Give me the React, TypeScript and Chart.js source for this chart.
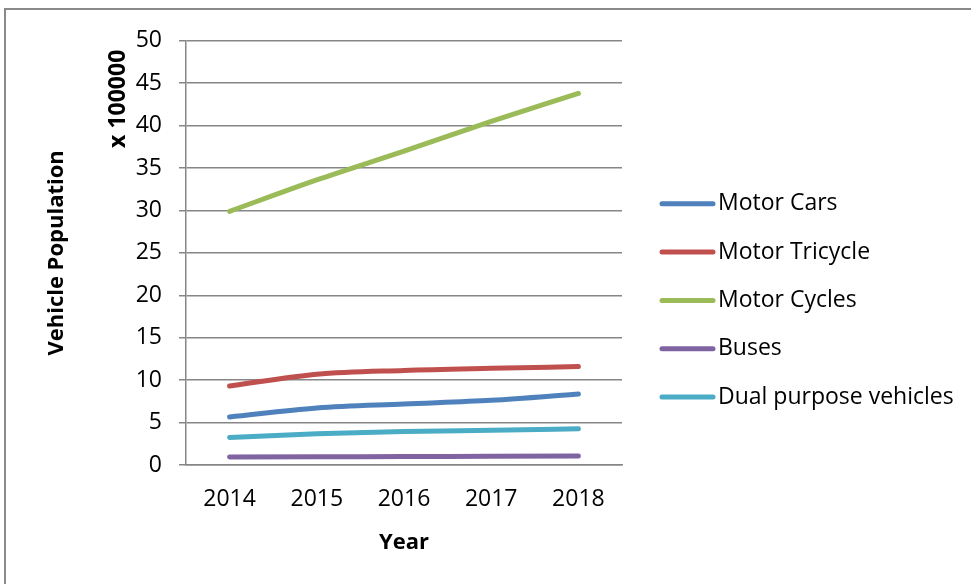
import React, { useEffect, useRef } from "react";
import { Chart, registerables } from "chart.js";

Chart.register(...registerables);

const years = ["2014", "2015", "2016", "2017", "2018"];
const motorCars = [5.67, 6.73, 7.2, 7.63, 8.37];
const motorTricycle = [9.3, 10.7, 11.15, 11.4, 11.6];
const motorCycles = [29.9, 33.6, 37.0, 40.5, 43.8];
const buses = [0.94, 0.97, 1.0, 1.03, 1.06];
const dualPurpose = [3.25, 3.68, 3.95, 4.1, 4.26];

const seriesNames = ["Motor Cars", "Motor Tricycle", "Motor Cycles", "Buses", "Dual purpose vehicles"];
const seriesColors = ["#4F81BD", "#C0504D", "#9BBB59", "#8064A2", "#4BACC6"];
const seriesValues = [motorCars, motorTricycle, motorCycles, buses, dualPurpose];

const FONT = "'Open Sans', 'Noto Sans', sans-serif";
const GRID = "#868686";

const extrasPlugin = {
  id: "extras",
  afterDraw(chart: any) {
    const { ctx, chartArea } = chart;
    ctx.save();
    // display unit label
    ctx.translate(chartArea.left - 68, chartArea.top + 58);
    ctx.rotate(-Math.PI / 2);
    ctx.font = `bold 23px ${FONT}`;
    ctx.fillStyle = "#000";
    ctx.textAlign = "center";
    ctx.textBaseline = "middle";
    ctx.fillText("x 100000", 0, 0);
    ctx.restore();

    // legend
    ctx.save();
    const x0 = chartArea.right + 38;
    const y0 = chartArea.top + 163;
    const step = 48.3;
    chart.data.datasets.forEach((ds: any, i: number) => {
      const y = y0 + i * step;
      ctx.beginPath();
      ctx.strokeStyle = ds.borderColor;
      ctx.lineWidth = 5;
      ctx.lineCap = "round";
      ctx.moveTo(x0 + 2, y);
      ctx.lineTo(x0 + 53, y);
      ctx.stroke();
      ctx.font = `23px ${FONT}`;
      ctx.fillStyle = "#000";
      ctx.textAlign = "left";
      ctx.textBaseline = "middle";
      ctx.fillText(ds.label, x0 + 58, y);
    });
    ctx.restore();
  },
};

export default function App() {
  const ref = useRef<HTMLCanvasElement>(null);
  useEffect(() => {
    if (!ref.current) return;
    const chart = new Chart(ref.current, {
      type: "line",
      data: {
        labels: years,
        datasets: seriesValues.map((vals, i) => ({
          label: seriesNames[i],
          data: vals,
          borderColor: seriesColors[i],
          backgroundColor: seriesColors[i],
          borderWidth: 5,
          borderCapStyle: "round",
          pointRadius: 0,
          cubicInterpolationMode: "monotone",
          fill: false,
        })),
      },
      options: {
        animation: false,
        responsive: false,
        maintainAspectRatio: false,
        layout: { padding: { top: 27, right: 349, bottom: 19, left: 0 } },
        plugins: { legend: { display: false }, tooltip: { enabled: false } },
        font: { family: FONT },
        scales: {
          x: {
            offset: true,
            grid: { display: false, drawTicks: false },
            border: { display: true, color: GRID, width: 1.5 },
            ticks: { color: "#000", font: { family: FONT, size: 23 }, padding: 21 },
            title: {
              display: true,
              text: "Year",
              color: "#000",
              font: { family: FONT, size: 22, weight: "bold" },
              padding: { top: 0, bottom: 9 },
            },
            afterFit: (s: any) => {
              s.height = 100;
            },
          },
          y: {
            min: 0,
            max: 50,
            ticks: { stepSize: 5, color: "#000", font: { family: FONT, size: 23 }, padding: 17 },
            grid: { color: GRID, lineWidth: 1.5, tickLength: 7, drawTicks: true },
            border: { display: true, color: GRID, width: 1.5 },
            title: {
              display: true,
              text: "Vehicle Population",
              color: "#000",
              font: { family: FONT, size: 22, weight: "bold" },
              padding: { top: 38, bottom: 0 },
            },
            afterFit: (s: any) => {
              s.width = 180;
            },
          },
        },
      },
      plugins: [extrasPlugin],
    } as any);
    return () => chart.destroy();
  }, []);
  return (
    <div
      style={{
        position: "absolute",
        left: 4,
        top: 8,
        width: 1000,
        height: 620,
        borderTop: `2px solid #8a8a8a`,
        borderLeft: `2px solid #8a8a8a`,
        background: "#fff",
      }}
    >
      <canvas ref={ref} width={965} height={574} style={{ display: "block" }} />
    </div>
  );
}
